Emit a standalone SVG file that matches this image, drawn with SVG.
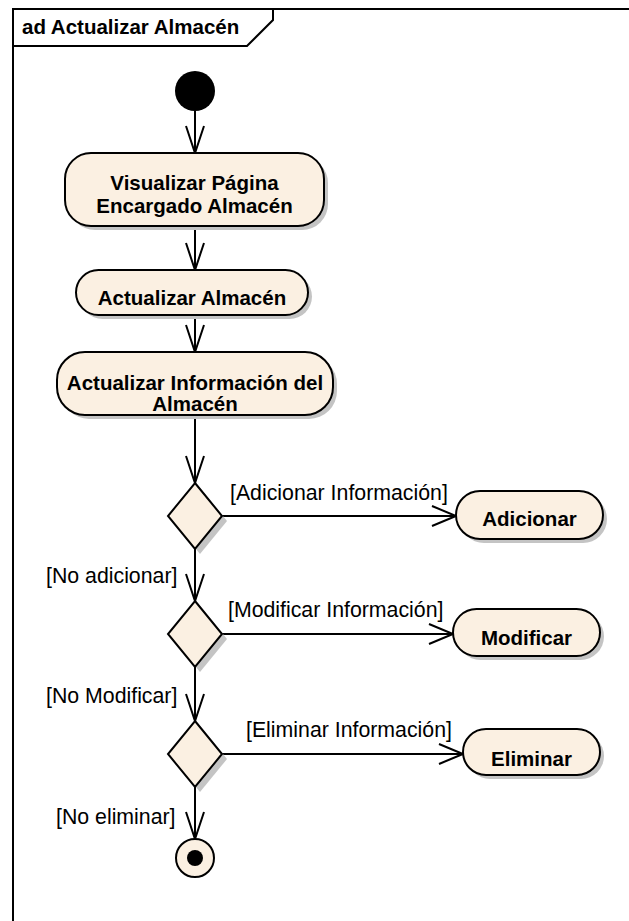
<svg xmlns="http://www.w3.org/2000/svg" width="629" height="921" viewBox="0 0 629 921">
<style>
.frame{fill:none;stroke:#000;stroke-width:2}
.act{fill:#FBF0E2;stroke:#000;stroke-width:2}
.shadow{fill:#C4C4C4;stroke:none}
.edge{fill:none;stroke:#000;stroke-width:2}
.bold{font-family:"Liberation Sans",Arial,sans-serif;font-weight:bold;font-size:20.5px;fill:#000}
.lbl{font-family:"Liberation Sans",Arial,sans-serif;font-size:21.3px;fill:#000}
</style>
<rect x="0" y="0" width="629" height="921" fill="#fff"/>
<g id="frame">
<path class="frame" d="M13,921 L13,9 L629,9"/>
<path class="frame" d="M13,46 L247,46 L273,20 L273,9"/>
<text class="bold" x="22" y="34">ad Actualizar Almacén</text>
</g>
<g id="connectors">
<path class="edge" d="M195,111 L195,153 M186,126 L195,153 L204,126"/>
<path class="edge" d="M195,226 L195,270 M186,243 L195,270 L204,243"/>
<path class="edge" d="M195,315 L195,352 M186,325 L195,352 L204,325"/>
<path class="edge" d="M195,415 L195,483 M186,456 L195,483 L204,456"/>
<path class="edge" d="M195,549 L195,601 M186,574 L195,601 L204,574"/>
<path class="edge" d="M195,667 L195,721 M186,694 L195,721 L204,694"/>
<path class="edge" d="M195,787 L195,839 M186,812 L195,839 L204,812"/>
<path class="edge" d="M222,516 L456,516 M432,506 L456,516 L432,526"/>
<path class="edge" d="M222,634 L453,634 M429,624 L453,634 L429,644"/>
<path class="edge" d="M222,754 L463,754 M439,744 L463,754 L439,764"/>
<text class="lbl" x="230" y="500">[Adicionar Información]</text>
<text class="lbl" x="46" y="583">[No adicionar]</text>
<text class="lbl" x="228" y="617">[Modificar Información]</text>
<text class="lbl" x="46" y="703">[No Modificar]</text>
<text class="lbl" x="246" y="737">[Eliminar Información]</text>
<text class="lbl" x="56" y="824">[No eliminar]</text>
</g>
<g id="initial">
<circle cx="195" cy="91" r="20" fill="#000"/>
</g>
<g id="visualizar">
<rect class="shadow" x="69" y="157" width="259" height="73" rx="26"/>
<rect class="act" x="65" y="153" width="259" height="73" rx="26"/>
<text class="bold" x="194.5" y="190" text-anchor="middle">Visualizar Página</text>
<text class="bold" x="194.5" y="213" text-anchor="middle">Encargado Almacén</text>
</g>
<g id="actualizarAlmacen">
<rect class="shadow" x="80" y="274" width="232" height="45" rx="22.5"/>
<rect class="act" x="76" y="270" width="232" height="45" rx="22.5"/>
<text class="bold" x="192" y="305" text-anchor="middle">Actualizar Almacén</text>
</g>
<g id="actualizarInfo">
<rect class="shadow" x="61" y="356" width="276" height="63" rx="28"/>
<rect class="act" x="57" y="352" width="276" height="63" rx="28"/>
<text class="bold" x="195" y="390" text-anchor="middle">Actualizar Información del</text>
<text class="bold" x="195" y="411" text-anchor="middle">Almacén</text>
</g>
<g id="decision1">
<polygon class="shadow" points="200,488 227,521 200,554 173,521"/>
<polygon class="act" points="195,483 222,516 195,549 168,516"/>
</g>
<g id="adicionar">
<rect class="shadow" x="460" y="495" width="147" height="48" rx="24"/>
<rect class="act" x="456" y="491" width="147" height="48" rx="24"/>
<text class="bold" x="529.5" y="526" text-anchor="middle">Adicionar</text>
</g>
<g id="decision2">
<polygon class="shadow" points="200,606 227,639 200,672 173,639"/>
<polygon class="act" points="195,601 222,634 195,667 168,634"/>
</g>
<g id="modificar">
<rect class="shadow" x="457" y="613" width="147" height="47" rx="23.5"/>
<rect class="act" x="453" y="609" width="147" height="47" rx="23.5"/>
<text class="bold" x="526.5" y="645" text-anchor="middle">Modificar</text>
</g>
<g id="decision3">
<polygon class="shadow" points="200,726 227,759 200,792 173,759"/>
<polygon class="act" points="195,721 222,754 195,787 168,754"/>
</g>
<g id="eliminar">
<rect class="shadow" x="467" y="733" width="137" height="46" rx="23"/>
<rect class="act" x="463" y="729" width="137" height="46" rx="23"/>
<text class="bold" x="531.5" y="766" text-anchor="middle">Eliminar</text>
</g>
<g id="final">
<circle class="act" cx="195" cy="858" r="19"/>
<circle cx="195" cy="858" r="8" fill="#000"/>
</g>
</svg>
